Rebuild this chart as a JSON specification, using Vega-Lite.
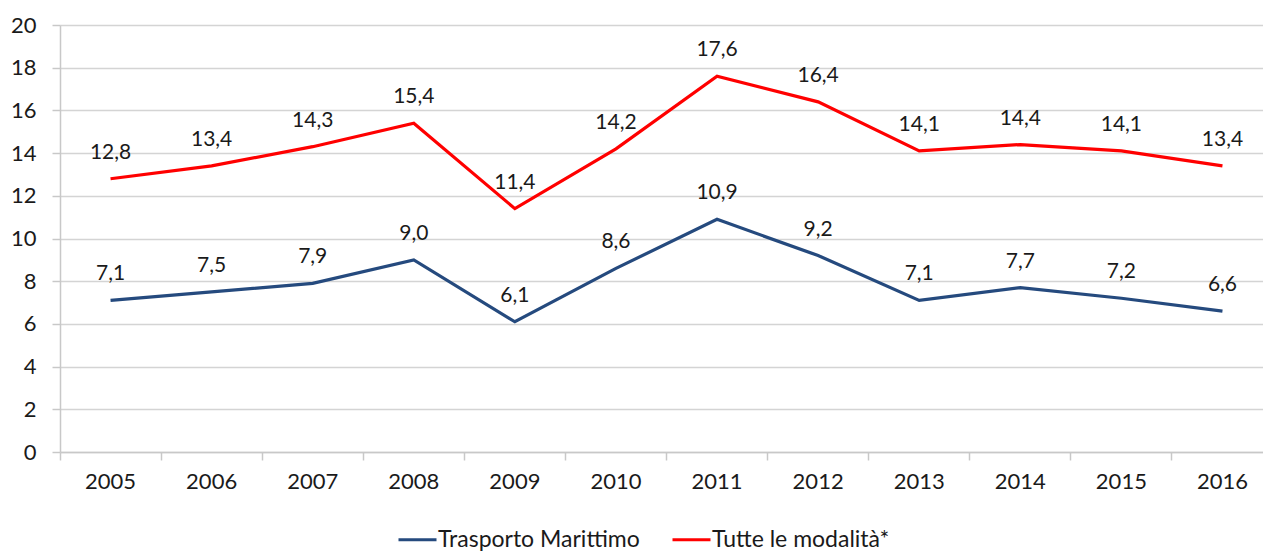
{
  "$schema": "https://vega.github.io/schema/vega-lite/v6.json",
  "width": 1203,
  "height": 427,
  "autosize": {"type": "none"},
  "padding": {"left": 60, "top": 25, "right": 0, "bottom": 102},
  "background": "white",
  "config": {
    "view": {"stroke": null},
    "font": "Lato",
    "locale": {"number": {"decimal": ",", "thousands": ".", "grouping": [3], "currency": ["€", ""]}}
  },
  "data": {
    "values": [
      {"anno": "2005", "serie": "Trasporto Marittimo", "valore": 7.1},
      {"anno": "2006", "serie": "Trasporto Marittimo", "valore": 7.5},
      {"anno": "2007", "serie": "Trasporto Marittimo", "valore": 7.9},
      {"anno": "2008", "serie": "Trasporto Marittimo", "valore": 9.0},
      {"anno": "2009", "serie": "Trasporto Marittimo", "valore": 6.1},
      {"anno": "2010", "serie": "Trasporto Marittimo", "valore": 8.6},
      {"anno": "2011", "serie": "Trasporto Marittimo", "valore": 10.9},
      {"anno": "2012", "serie": "Trasporto Marittimo", "valore": 9.2},
      {"anno": "2013", "serie": "Trasporto Marittimo", "valore": 7.1},
      {"anno": "2014", "serie": "Trasporto Marittimo", "valore": 7.7},
      {"anno": "2015", "serie": "Trasporto Marittimo", "valore": 7.2},
      {"anno": "2016", "serie": "Trasporto Marittimo", "valore": 6.6},
      {"anno": "2005", "serie": "Tutte le modalità*", "valore": 12.8},
      {"anno": "2006", "serie": "Tutte le modalità*", "valore": 13.4},
      {"anno": "2007", "serie": "Tutte le modalità*", "valore": 14.3},
      {"anno": "2008", "serie": "Tutte le modalità*", "valore": 15.4},
      {"anno": "2009", "serie": "Tutte le modalità*", "valore": 11.4},
      {"anno": "2010", "serie": "Tutte le modalità*", "valore": 14.2},
      {"anno": "2011", "serie": "Tutte le modalità*", "valore": 17.6},
      {"anno": "2012", "serie": "Tutte le modalità*", "valore": 16.4},
      {"anno": "2013", "serie": "Tutte le modalità*", "valore": 14.1},
      {"anno": "2014", "serie": "Tutte le modalità*", "valore": 14.4},
      {"anno": "2015", "serie": "Tutte le modalità*", "valore": 14.1},
      {"anno": "2016", "serie": "Tutte le modalità*", "valore": 13.4}
    ]
  },
  "encoding": {
    "x": {
      "field": "anno",
      "type": "nominal",
      "scale": {"type": "band", "range": [0, 1213], "paddingInner": 0, "paddingOuter": 0},
      "axis": {
        "title": null,
        "labelAngle": 0,
        "bandPosition": 0,
        "labelFont": "Lato",
        "labelFontSize": 22,
        "labelColor": "#1a1a1a",
        "labelPadding": 11,
        "tickSize": 8,
        "tickColor": "#c8c8c8",
        "tickWidth": 1.5,
        "domainColor": "#c8c8c8",
        "domainWidth": 1.5,
        "grid": false
      }
    },
    "y": {
      "field": "valore",
      "type": "quantitative",
      "scale": {"domain": [0, 20], "nice": false},
      "axis": {
        "title": null,
        "values": [0, 2, 4, 6, 8, 10, 12, 14, 16, 18, 20],
        "format": "d",
        "labelFont": "Lato",
        "labelFontSize": 22,
        "labelColor": "#1a1a1a",
        "labelPadding": 16,
        "tickSize": 8,
        "tickColor": "#c8c8c8",
        "tickWidth": 1.5,
        "domainColor": "#c8c8c8",
        "domainWidth": 1.5,
        "grid": true,
        "gridColor": "#d4d4d4",
        "gridWidth": 1.5
      }
    },
    "color": {
      "field": "serie",
      "type": "nominal",
      "scale": {"domain": ["Trasporto Marittimo", "Tutte le modalità*"], "range": ["#254a7e", "#ff0000"]},
      "legend": {
        "title": null,
        "orient": "none",
        "direction": "horizontal",
        "legendX": 337,
        "legendY": 494,
        "symbolType": "stroke",
        "symbolSize": 1444,
        "symbolStrokeWidth": 3,
        "labelFont": "Lato",
        "labelFontSize": 23,
        "labelColor": "#1a1a1a",
        "labelLimit": 400,
        "labelOffset": 0,
        "columnPadding": 26
      }
    }
  },
  "layer": [
    {"mark": {"type": "line", "strokeWidth": 3.2}},
    {
      "mark": {"type": "text", "dy": -26, "font": "Lato", "fontSize": 21, "color": "#1a1a1a"},
      "encoding": {
        "text": {"field": "valore", "type": "quantitative", "format": ".1f"},
        "color": {"value": "#1a1a1a"}
      }
    }
  ]
}
